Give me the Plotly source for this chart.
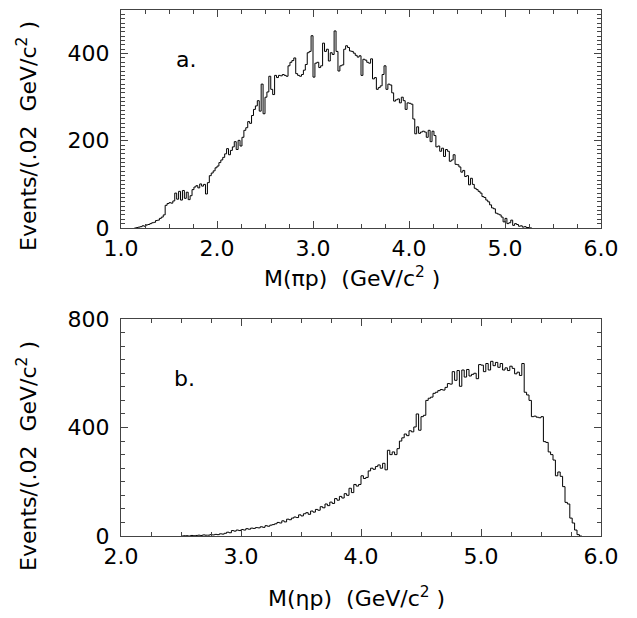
import plotly.graph_objects as go

# ---------------- data ----------------
BIN_WIDTH = 0.02

pi_p_start = 1.14
pi_p_counts = [
    0, 1, 2, 3, 5, 4, 7, 8, 10, 12, 13, 17, 18, 22, 25, 30,
    52, 56, 58, 57, 62, 80, 66, 84, 64, 86, 68, 82, 65, 74, 88,
    94, 97, 92, 101, 96, 100, 78, 104, 120, 126, 131, 138,
    142, 150, 156, 162, 170, 182, 168, 178, 186, 198, 180, 201, 188,
    208, 224, 230, 244, 240, 258, 272, 280, 292, 268, 330, 262,
    300, 312, 348, 318, 306, 350, 345, 350, 349, 352, 350, 348,
    372, 380, 384, 390, 354, 350, 348, 352, 362, 375, 402, 405, 441,
    346, 378, 380, 368, 372, 424, 405, 410, 383, 402, 398, 452, 405,
    360, 372, 374, 410, 418, 414, 406, 405, 401, 396, 392, 395,
    350, 387, 385, 380, 378, 388, 342, 345, 318, 322, 326, 352,
    372, 318, 330, 328, 310, 291, 294, 296, 287, 300, 292, 272,
    287, 286, 284, 250, 216, 232, 217, 220, 222, 220, 208, 224,
    198, 222, 212, 186, 188, 176, 183, 164, 180, 176, 153, 156,
    168, 146, 145, 140, 128, 132, 118, 120, 99, 114, 100, 91,
    88, 84, 80, 72, 70, 64, 60, 53, 46, 44, 34, 32, 30, 25,
    14, 22, 10, 12, 18, 6, 10, 8, 4, 5, 2, 3, 1, 1, 0,
]

eta_p_start = 2.50
eta_p_counts = [
    0, 1, 1, 0, 2, 1, 2, 3, 2, 4, 3, 3, 5, 4, 6, 5, 8, 7, 10,
    14, 12, 20, 18, 22, 20, 24, 22, 27, 25, 29, 28, 31, 30, 34, 32,
    38, 36, 40, 42, 45, 50, 48, 56, 52, 62, 60, 66, 70, 68, 78, 74,
    82, 86, 80, 92, 88, 98, 95, 108, 104, 118, 112, 125, 120, 138,
    132, 146, 140, 156, 150, 176, 160, 190, 184, 190, 222, 212, 216,
    240, 250, 246, 256, 262, 250, 268, 244, 316, 300, 310, 300, 322,
    350, 362, 376, 370, 388, 384, 402, 450, 390, 440, 445, 500, 508,
    512, 526, 530, 536, 540, 538, 548, 562, 560, 606, 574, 610, 552,
    612, 586, 614, 590, 596, 600, 580, 632, 630, 606, 636, 612, 644,
    628, 640, 622, 636, 612, 620, 610, 626, 618, 598, 604, 592, 636,
    530, 520, 500, 440, 442, 438, 436, 440, 348, 345, 310, 300, 280,
    222, 236, 220, 182, 124, 118, 66, 48, 22, 5, 0,
]

pi_p_yticks = [0, 200, 400]
pi_p_ymid_ticks = [100, 300, 500]
eta_p_yticks = [0, 400, 800]
eta_p_ymid_ticks = [200, 600]

panel_labels = ["a.", "b."]
x_titles = ["M(\u03c0p)  (GeV/c<sup>2</sup> )", "M(\u03b7p)  (GeV/c<sup>2</sup> )"]
y_title = "Events/(.02  GeV/c<sup>2</sup> )"


def step_xy(start, counts):
    edges = [start + i * BIN_WIDTH for i in range(len(counts) + 1)]
    xs = [edges[0]] + edges
    ys = [0] + list(counts) + [0]
    return xs, ys


FONT = "DejaVu Sans"
FS = 22
LINE = "#444444"

# page coordinates (browser body has an 8px offset)
PW, PH = 480, 526   # plot area size in px


def px(page_x):
    return (page_x - 121) / PW


def py(page_y):
    return (536 - page_y) / PH


fig = go.Figure()

xa, ya = step_xy(pi_p_start, pi_p_counts)
fig.add_trace(go.Scatter(x=xa, y=ya, mode="lines", line=dict(shape="hv", color="black", width=1),
                         xaxis="x", yaxis="y", showlegend=False, hoverinfo="skip"))
xb, yb = step_xy(eta_p_start, eta_p_counts)
fig.add_trace(go.Scatter(x=xb, y=yb, mode="lines", line=dict(shape="hv", color="black", width=1),
                         xaxis="x2", yaxis="y2", showlegend=False, hoverinfo="skip"))

common_x = dict(showgrid=False, zeroline=False, showline=True, linecolor=LINE, linewidth=1,
                mirror="ticks", ticks="inside", ticklen=7, tickcolor=LINE, dtick=1,
                tickformat=".1f", tickfont=dict(family=FONT, size=FS, color="black"),
                automargin=False, ticklabelstandoff=1,
                minor=dict(ticks="inside", ticklen=4, dtick=0.25, tickcolor=LINE, showgrid=False))
common_y = dict(showgrid=False, zeroline=False, showline=True, linecolor=LINE, linewidth=1,
                mirror="ticks", ticks="inside", ticklen=7, tickcolor=LINE,
                automargin=False, ticklabelstandoff=6,
                tickfont=dict(family=FONT, size=FS, color="black"))
mid_y = dict(showgrid=False, zeroline=False, showline=False, mirror="ticks", ticks="inside",
             ticklen=7, tickcolor=LINE, showticklabels=False, automargin=False)

fig.update_layout(
    width=629, height=610,
    margin=dict(l=113, r=36, t=2, b=82),
    paper_bgcolor="white", plot_bgcolor="white",
    xaxis=dict(domain=[0, 1], range=[1.0, 6.0], anchor="y", **common_x),
    yaxis=dict(domain=[0.5856, 1.0], range=[0, 500], anchor="x",
               tickvals=pi_p_yticks,
               minor=dict(ticks="inside", ticklen=4, dtick=10, tickcolor=LINE, showgrid=False),
               **common_y),
    yaxis3=dict(overlaying="y", anchor="x", range=[0, 500], tickvals=pi_p_ymid_ticks, **mid_y),
    xaxis2=dict(domain=[0, 1], range=[2.0, 6.0], anchor="y2", **common_x),
    yaxis2=dict(domain=[0, 0.4125], range=[0, 800], anchor="x2",
                tickvals=eta_p_yticks,
                minor=dict(ticks="inside", ticklen=4, dtick=50, tickcolor=LINE, showgrid=False),
                **common_y),
    yaxis4=dict(overlaying="y2", anchor="x2", range=[0, 800], tickvals=eta_p_ymid_ticks, **mid_y),
)

ann_font = dict(family=FONT, size=FS, color="black")
# panel labels
fig.add_annotation(text=panel_labels[0], xref="x", yref="y", x=1.68, y=387,
                   xanchor="center", yanchor="middle", showarrow=False, font=ann_font)
fig.add_annotation(text=panel_labels[1], xref="x2", yref="y2", x=2.53, y=582,
                   xanchor="center", yanchor="middle", showarrow=False, font=ann_font)
# x titles
fig.add_annotation(text=x_titles[0], xref="paper", yref="paper", x=px(352), y=py(277),
                   xanchor="center", yanchor="middle", showarrow=False, font=ann_font)
fig.add_annotation(text=x_titles[1], xref="paper", yref="paper", x=px(356), y=py(597),
                   xanchor="center", yanchor="middle", showarrow=False, font=ann_font)
# y titles
fig.add_annotation(text=y_title, xref="paper", yref="paper", x=px(27), y=py(136),
                   textangle=-90, xanchor="center", yanchor="middle", showarrow=False, font=ann_font)
fig.add_annotation(text=y_title, xref="paper", yref="paper", x=px(27), y=py(456),
                   textangle=-90, xanchor="center", yanchor="middle", showarrow=False, font=ann_font)

fig.write_html("out.html")
